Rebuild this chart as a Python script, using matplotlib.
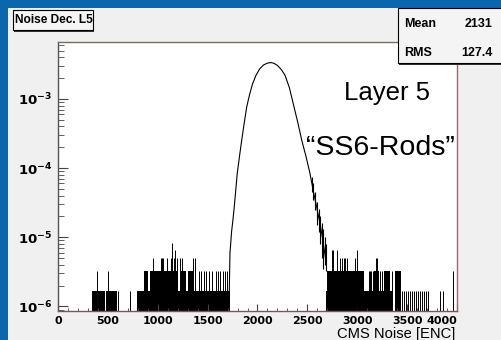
import numpy as np
import matplotlib.pyplot as plt
from matplotlib.patches import Rectangle
from matplotlib.ticker import FixedLocator, LogLocator, NullFormatter

plt.rcParams['font.family'] = ['Liberation Sans', 'DejaVu Sans']
plt.rcParams['mathtext.fontset'] = 'custom'
plt.rcParams['mathtext.rm'] = 'DejaVu Sans'
plt.rcParams['mathtext.bf'] = 'DejaVu Sans:bold'

# main peak of the noise distribution (normalised, per ENC)
core_x = [1717, 1724, 1740, 1754, 1767, 1782, 1797, 1820, 1842, 1865, 1892, 1920,
          1950, 1985, 2020, 2060, 2100, 2132, 2165, 2200, 2240, 2276, 2320, 2366,
          2405, 2443, 2485, 2526, 2560, 2593, 2606, 2630, 2650, 2670, 2690]
core_y = [1.65e-6, 5.9e-6, 1.2e-5, 1.8e-5, 2.75e-5, 4.8e-5, 8.4e-5, 1.5e-4, 2.55e-4,
          4.3e-4, 7.7e-4, 1.15e-3, 1.65e-3, 2.2e-3, 2.7e-3, 3.1e-3, 3.3e-3, 3.36e-3,
          3.28e-3, 3.05e-3, 2.65e-3, 2.2e-3, 1.45e-3, 7.7e-4, 4.5e-4, 2.55e-4, 1.5e-4,
          8.4e-5, 4.6e-5, 2.75e-5, 2.2e-5, 1.5e-5, 1.0e-5, 6.5e-6, 4e-6]

# jagged bin-to-bin steps on the right flank: position, low and high level
flank_x = [2545, 2560, 2580, 2600, 2615, 2630, 2645, 2660, 2672, 2685]
flank_lo = [4.5e-5, 3.5e-5, 2.5e-5, 1.5e-5, 1.2e-5, 8e-6, 5e-6, 3.5e-6, 4e-6, 3.3e-6]
flank_hi = [7.5e-5, 6e-5, 4.5e-5, 3.2e-5, 2.6e-5, 2e-5, 1.6e-5, 1.3e-5, 1e-5, 8e-6]

# runs of occupied bins: start, end [ENC], entries
run_start = [340, 400, 480, 790, 870, 865, 925, 1230, 1300, 2690, 2695, 3170, 3270, 3380]
run_end = [395, 470, 590, 860, 1720, 905, 1200, 1280, 1350, 3360, 3070, 3220, 3330, 3440]
run_n = [1, 1, 1, 1, 1, 2, 2, 2, 2, 1, 2, 2, 2, 2]

# isolated bins: position [ENC], entries
tail_x = [390, 505, 605, 720, 955, 1030, 1045, 1056, 1090, 1133, 1140, 1160, 1173,
          1190, 1223, 1240, 1350, 1373, 1410, 1430, 1460, 1480, 1510, 1545, 1580,
          1600, 1620, 1650, 1670, 1690,
          2744, 2760, 2794, 2827, 2844, 2867, 2877, 2894, 2977, 2994, 3118, 3128,
          3140, 3158, 3188, 3195, 3228, 3245, 3295, 3345,
          3375, 3392, 3410, 3425, 3450, 3468, 3490, 3505, 3530, 3548, 3570, 3590,
          3610, 3628, 3650, 3668, 3690, 3705, 3830, 3863, 3963]
tail_n = [2, 2, 1, 1, 3, 3, 3, 3, 3, 3, 5, 3, 4,
          3, 3, 3, 3, 3, 2, 2, 2, 2, 2, 2, 2,
          2, 2, 2, 2, 2,
          4, 4, 4, 3, 3, 3, 3, 3, 3, 4, 2, 2,
          2, 2, 3, 3, 2, 2, 2, 2,
          1, 1, 1, 1, 1, 1, 1, 1, 1, 1, 1, 1,
          1, 1, 1, 1, 1, 1, 1, 1, 2]

x_ticks = [0, 500, 1000, 1500, 2000, 2500, 3000, 3500, 4000]
x_labels = ['0', '500', '1000', '1500', '2000', '2500', '3000', '3500', '4000']
y_ticks = [1e-6, 1e-5, 1e-4, 1e-3]
y_labels = [r'$\mathbf{10^{-6}}$', r'$\mathbf{10^{-5}}$',
            r'$\mathbf{10^{-4}}$', r'$\mathbf{10^{-3}}$']

one_entry = 1.65e-6
y_lo = 10 ** -6.061
y_hi = 10 ** -2.172

fig = plt.figure(figsize=(5.02, 3.40), dpi=100)
fig.patch.set_facecolor('#0a66ad')
fig.patches.append(Rectangle((8 / 502, 0), 1, 332 / 340, transform=fig.transFigure,
                             facecolor='#f0f0f0', edgecolor='none', zorder=-1))

ax = fig.add_axes([58 / 502, 29.3 / 340, 399 / 502, 269 / 340])
ax.set_facecolor('white')
ax.set_yscale('log')
ax.set_xlim(0, 4000)
ax.set_ylim(y_lo, y_hi)

heights = np.array(run_n) * one_entry - y_lo
ax.bar(run_start, heights, width=np.array(run_end) - np.array(run_start),
       bottom=y_lo, align='edge', color='black', linewidth=0)
ax.vlines(tail_x, y_lo, np.array(tail_n) * one_entry, colors='black', lw=0.7)
ax.vlines(flank_x, flank_lo, flank_hi, colors='black', lw=0.8)
ax.plot(core_x, core_y, color='black', lw=0.8)

for side in ['left', 'bottom', 'top', 'right']:
    ax.spines[side].set_linewidth(1.0)
ax.spines['left'].set_color('#555555')
ax.spines['top'].set_color('#7a6a66')
ax.spines['right'].set_color('#b85a6a')
ax.spines['bottom'].set_color('#8a5050')

ax.xaxis.set_major_locator(FixedLocator(x_ticks))
ax.xaxis.set_minor_locator(FixedLocator(np.arange(0, 4001, 100)))
ax.set_xticklabels(x_labels, fontsize=8, fontweight='bold', family='DejaVu Sans')
ax.get_xticklabels()[-1].set_horizontalalignment('right')
ax.yaxis.set_major_locator(FixedLocator(y_ticks))
ax.yaxis.set_minor_locator(LogLocator(base=10, subs=np.arange(2, 10)))
ax.yaxis.set_minor_formatter(NullFormatter())
ax.set_yticklabels(y_labels, fontsize=9.5)
ax.tick_params(which='both', direction='in', colors='#444444', labelcolor='black')
ax.tick_params(axis='x', which='major', length=5, width=0.8, pad=3.5)
ax.tick_params(axis='x', which='minor', length=2.5, width=0.6)
ax.tick_params(axis='y', which='major', length=7, width=0.8, pad=4)
ax.tick_params(axis='y', which='minor', length=4, width=0.6)

fig.text(455 / 502, 1.6 / 340, 'CMS Noise [ENC]', ha='right', va='baseline', fontsize=10.6)

# title box
fig.patches.append(Rectangle((14.2 / 502, (340 - 31.5) / 340), 80 / 502, 20 / 340,
                             transform=fig.transFigure, facecolor='#333333',
                             edgecolor='none', zorder=2))
fig.patches.append(Rectangle((12.7 / 502, (340 - 30) / 340), 80 / 502, 20 / 340,
                             transform=fig.transFigure, facecolor='#f4f4f4',
                             edgecolor='black', lw=0.8, zorder=2))
fig.text(15 / 502, (340 - 20) / 340, 'Noise Dec. L5', ha='left', va='center',
         fontsize=8.6, fontweight='bold')

# statistics box
fig.patches.append(Rectangle((399.5 / 502, (340 - 64.5) / 340), 110 / 502, 56 / 340,
                             transform=fig.transFigure, facecolor='#333333',
                             edgecolor='none', zorder=2))
fig.patches.append(Rectangle((398 / 502, (340 - 63) / 340), 110 / 502, 55 / 340,
                             transform=fig.transFigure, facecolor='#f4f4f4',
                             edgecolor='black', lw=0.8, zorder=2))
fig.text(404 / 502, (340 - 27) / 340, 'Mean', ha='left', va='baseline', fontsize=9,
         fontweight='bold')
fig.text(493 / 502, (340 - 27) / 340, '2131', ha='right', va='baseline', fontsize=9,
         fontweight='bold')
fig.text(404 / 502, (340 - 56) / 340, 'RMS', ha='left', va='baseline', fontsize=9,
         fontweight='bold')
fig.text(493 / 502, (340 - 56) / 340, '127.4', ha='right', va='baseline', fontsize=9,
         fontweight='bold')

fig.text(387 / 502, (340 - 100) / 340, 'Layer 5', ha='center', va='baseline', fontsize=18.5)
fig.text(380 / 502, (340 - 155) / 340, '\u201cSS6-Rods\u201d', ha='center', va='baseline',
         fontsize=20.5)

fig.savefig('out.png', dpi=100, facecolor=fig.get_facecolor())
